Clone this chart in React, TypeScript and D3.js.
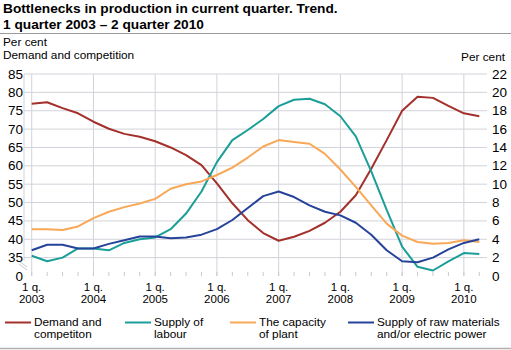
import React from "react";
import * as d3 from "d3";

// quarters 1q 2003 .. 2q 2010
const quarters: string[] = d3.range(30).map((i) => `${2003 + Math.floor(i / 4)}Q${(i % 4) + 1}`);
const yearLabels = ["2003", "2004", "2005", "2006", "2007", "2008", "2009", "2010"];

// left axis, per cent
const demand = [
  76.9, 77.3, 75.7, 74.3, 72.0, 70.1, 68.7, 67.9, 66.7, 65.0, 62.9, 60.2, 55.2, 49.8, 45.2,
  41.7, 39.6, 40.7, 42.3, 44.5, 47.5, 52.0, 59.2, 67.0, 75.0, 78.8, 78.5, 76.3, 74.3, 73.5,
];
// right axis, per cent
const labour = [
  2.2, 1.6, 2.0, 3.0, 3.0, 2.8, 3.6, 4.0, 4.2, 5.1, 6.8, 9.2, 12.4, 14.8, 15.9,
  17.1, 18.5, 19.2, 19.3, 18.7, 17.4, 15.2, 11.4, 7.2, 3.2, 1.0, 0.6, 1.6, 2.5, 2.4,
];
const capacity = [
  5.1, 5.1, 5.0, 5.4, 6.3, 7.0, 7.5, 7.9, 8.4, 9.5, 10.0, 10.3, 11.0, 11.8, 12.9,
  14.1, 14.8, 14.6, 14.4, 13.3, 11.6, 9.7, 7.7, 5.7, 4.4, 3.7, 3.5, 3.6, 3.9, 3.7,
];
const rawMaterials = [
  2.8, 3.4, 3.4, 3.0, 3.0, 3.5, 3.9, 4.3, 4.3, 4.1, 4.2, 4.5, 5.1, 6.1, 7.4,
  8.7, 9.2, 8.6, 7.7, 7.0, 6.6, 5.8, 4.5, 2.8, 1.6, 1.5, 2.0, 2.9, 3.6, 4.0,
];

const leftTicks = [35, 40, 45, 50, 55, 60, 65, 70, 75, 80, 85];
const rightTicks = [0, 2, 4, 6, 8, 10, 12, 14, 16, 18, 20, 22];

const seriesInfo = [
  { name: ["Demand and", "competiton"], color: "#a3302b", axis: "left", values: demand, lx: 5 },
  { name: ["Supply of", "labour"], color: "#1b9e98", axis: "right", values: labour, lx: 125 },
  { name: ["The capacity", "of plant"], color: "#f8a857", axis: "right", values: capacity, lx: 230 },
  { name: ["Supply of raw materials", "and/or electric power"], color: "#26439a", axis: "right", values: rawMaterials, lx: 348 },
];

const W = 511;
const H = 350;
const plot = { left: 24, right: 487, top: 74, bottom: 276 };
const font = "Arial, 'Liberation Sans', Helvetica, sans-serif";

export default function App() {
  const x = d3.scalePoint<string>().domain(quarters).range([plot.left, plot.right]).padding(0.5);
  // left scale has a broken bottom: 30 sits where "0" is printed
  const yL = d3.scaleLinear().domain([30, 85]).range([plot.bottom, plot.top]);
  const yR = d3.scaleLinear().domain([0, 22]).range([plot.bottom, plot.top]);

  const lineL = d3.line<number>().x((_, i) => x(quarters[i])!).y((d) => yL(d));
  const lineR = d3.line<number>().x((_, i) => x(quarters[i])!).y((d) => yR(d));

  return (
    <svg width={W} height={H} style={{ position: "absolute", left: 0, top: 0 }} fontFamily={font}>
      <rect width={W} height={H} fill="#fff" />
      <text x={3} y={13} fontSize={13.7} fontWeight="bold" fill="#000">
        Bottlenecks in production in current quarter. Trend.
      </text>
      <text x={3} y={29} fontSize={13.7} fontWeight="bold" fill="#000">
        1 quarter 2003 – 2 quarter 2010
      </text>
      <line x1={0} x2={W} y1={33.5} y2={33.5} stroke="#9a9a9a" strokeWidth={1} />

      <text x={3} y={46} fontSize={11.8} fill="#000">Per cent</text>
      <text x={3} y={59} fontSize={11.8} fill="#000">Demand and competition</text>
      <text x={505} y={61} fontSize={11.8} fill="#000" textAnchor="end">Per cent</text>

      {/* horizontal grid */}
      {leftTicks.map((t) => (
        <line key={t} x1={plot.left} x2={plot.right} y1={yL(t)} y2={yL(t)} stroke="#d2d3da" strokeWidth={1} />
      ))}
      {/* vertical year grid */}
      {yearLabels.map((yr) => {
        const xx = x(`${yr}Q1`)!;
        return <line key={yr} x1={xx} x2={xx} y1={plot.top} y2={plot.bottom} stroke="#d2d3da" strokeWidth={1} />;
      })}
      {/* left edge with break */}
      <line x1={plot.left} x2={plot.left} y1={plot.top} y2={yL(35) + 3} stroke="#d2d3da" strokeWidth={1} />
      <line x1={19} x2={27} y1={261} y2={267} stroke="#c8c9d0" strokeWidth={1} />
      <line x1={19} x2={27} y1={264} y2={270} stroke="#c8c9d0" strokeWidth={1} />

      {/* quarter ticks */}
      {quarters.map((q) => (
        <line key={q} x1={x(q)!} x2={x(q)!} y1={plot.bottom - 4} y2={plot.bottom} stroke="#c8c9d0" strokeWidth={1} />
      ))}

      {/* left labels */}
      {leftTicks.map((t) => (
        <text key={t} x={23} y={yL(t) + 4.5} fontSize={13.5} textAnchor="end" fill="#000">{t}</text>
      ))}
      <text x={23} y={plot.bottom + 4.5} fontSize={13.5} textAnchor="end" fill="#000">0</text>

      {/* right labels */}
      {rightTicks.map((t) => (
        <text key={t} x={492} y={yR(t) + 4.5} fontSize={13.5} fill="#000">{t}</text>
      ))}

      {/* x labels */}
      {yearLabels.map((yr) => {
        const xx = x(`${yr}Q1`)!;
        return (
          <g key={yr}>
            <text x={xx} y={290.5} fontSize={11.5} textAnchor="middle" fill="#000">1 q.</text>
            <text x={xx} y={303} fontSize={11.5} textAnchor="middle" fill="#000">{yr}</text>
          </g>
        );
      })}

      {/* series */}
      {seriesInfo.map((s) => (
        <path
          key={s.color}
          d={(s.axis === "left" ? lineL : lineR)(s.values) || ""}
          fill="none"
          stroke={s.color}
          strokeWidth={2}
          strokeLinejoin="round"
        />
      ))}

      {/* legend */}
      {seriesInfo.map((s) => (
        <g key={s.color}>
          <line x1={s.lx} x2={s.lx + 26} y1={322.5} y2={322.5} stroke={s.color} strokeWidth={2} />
          <text x={s.lx + 29} y={325.5} fontSize={11.8} fill="#000">{s.name[0]}</text>
          <text x={s.lx + 29} y={338} fontSize={11.8} fill="#000">{s.name[1]}</text>
        </g>
      ))}
      <line x1={0} x2={W} y1={348.5} y2={348.5} stroke="#b0b0b0" strokeWidth={1.5} />
    </svg>
  );
}
